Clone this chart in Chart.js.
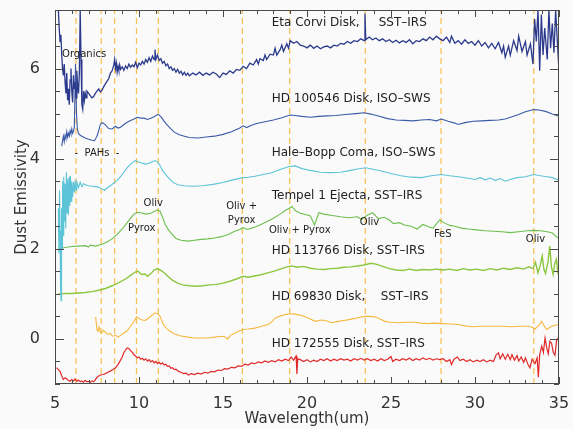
<!DOCTYPE html>
<html>
<head>
<meta charset="utf-8">
<script src="https://cdn.jsdelivr.net/npm/chart.js@4.4.0/dist/chart.umd.min.js"></script>
<style>
  html, body { margin: 0; padding: 0; background: #fafafa; }
  #wrap { width: 573px; height: 429px; }
</style>
</head>
<body>
<div id="wrap"><canvas id="spectra"></canvas></div>
<script>
// axis ranges and labelled ticks
const xRange = [5, 35];
const yRange = [-1, 7.3];
const xTicks = [5, 10, 15, 20, 25, 30, 35];
const yTicks = [0, 2, 4, 6];

// dashed feature markers (um)
const featureLines = [6.25, 7.75, 8.55, 9.85, 11.15, 16.15, 18.97, 23.47, 27.98, 33.5];

// spectra as [wavelength, emissivity] pairs, already offset as in the figure
const etaCorvi = [[5.2,7.3],[5.25,6.9],[5.3,6.6],[5.35,6.75],[5.4,6.3],[5.45,6.0],[5.5,5.85],[5.55,6.1],[5.6,5.7],[5.65,5.45],[5.7,5.9],[5.75,5.3],[5.8,5.55],[5.85,5.2],[5.9,5.75],[5.95,6.0],[6.0,5.5],[6.05,5.25],[6.1,5.85],[6.15,5.55],[6.2,5.7],[6.25,5.35],[6.3,5.95],[6.35,5.6],[6.4,5.45],[6.45,5.9],[6.5,7.3],[6.55,6.2],[6.6,5.2],[6.65,5.1],[6.7,5.5],[6.75,5.3],[6.8,5.45],[6.85,5.35],[6.9,5.5],[7.0,5.45],[7.1,5.4],[7.2,5.35],[7.3,5.38],[7.4,5.45],[7.5,5.5],[7.6,5.55],[7.7,5.48],[7.8,5.52],[7.9,5.6],[8.0,5.66],[8.1,5.72],[8.2,5.78],[8.3,5.9],[8.4,5.95],[8.5,6.08],[8.55,6.2],[8.6,6.0],[8.65,6.12],[8.7,5.92],[8.75,6.05],[8.8,5.96],[8.85,6.08],[8.9,5.98],[9.0,6.04],[9.1,5.96],[9.2,6.06],[9.3,6.0],[9.4,6.1],[9.5,6.03],[9.6,6.08],[9.7,6.04],[9.8,6.14],[9.9,6.02],[10.0,6.12],[10.1,6.08],[10.2,6.16],[10.3,6.1],[10.4,6.2],[10.5,6.14],[10.6,6.24],[10.7,6.16],[10.8,6.28],[10.9,6.2],[10.95,6.42],[11.0,6.2],[11.1,6.3],[11.2,6.18],[11.3,6.22],[11.4,6.12],[11.5,6.16],[11.6,6.06],[11.7,6.1],[11.8,6.0],[11.9,6.04],[12.0,5.96],[12.1,6.0],[12.2,5.92],[12.3,5.98],[12.4,5.9],[12.5,5.94],[12.6,5.86],[12.7,5.92],[12.8,5.85],[12.9,5.9],[13.0,5.84],[13.2,5.9],[13.4,5.86],[13.6,5.92],[13.8,5.85],[14.0,5.9],[14.2,5.86],[14.4,5.92],[14.6,5.88],[14.8,5.8],[15.0,5.9],[15.2,5.87],[15.4,5.95],[15.6,5.9],[15.8,5.98],[16.0,5.96],[16.2,6.05],[16.4,6.0],[16.6,6.12],[16.8,6.08],[17.0,6.2],[17.1,6.1],[17.2,6.22],[17.4,6.18],[17.5,6.3],[17.6,6.2],[17.8,6.32],[18.0,6.3],[18.1,6.45],[18.2,6.3],[18.4,6.42],[18.5,6.52],[18.6,6.38],[18.8,6.55],[18.9,6.45],[19.0,6.62],[19.2,6.56],[19.4,6.6],[19.6,6.52],[19.8,6.5],[20.0,6.46],[20.2,6.52],[20.4,6.45],[20.6,6.5],[20.8,6.44],[21.0,6.48],[21.2,6.5],[21.4,6.46],[21.6,6.52],[21.8,6.5],[22.0,6.56],[22.2,6.54],[22.4,6.6],[22.6,6.56],[22.8,6.62],[23.0,6.6],[23.2,6.66],[23.4,6.62],[23.45,7.22],[23.5,6.64],[23.7,6.7],[23.9,6.64],[24.1,6.68],[24.3,6.62],[24.5,6.66],[24.7,6.6],[24.9,6.64],[25.1,6.58],[25.3,6.63],[25.5,6.57],[25.7,6.62],[25.9,6.58],[26.1,6.64],[26.3,6.55],[26.5,6.62],[26.7,6.6],[26.9,6.66],[27.1,6.62],[27.3,6.7],[27.5,6.64],[27.7,6.72],[27.9,6.66],[28.1,6.62],[28.3,6.7],[28.5,6.58],[28.6,6.72],[28.8,6.56],[29.0,6.62],[29.2,6.54],[29.4,6.64],[29.6,6.56],[29.8,6.6],[30.0,6.52],[30.2,6.62],[30.4,6.5],[30.6,6.58],[30.8,6.46],[31.0,6.56],[31.2,6.44],[31.4,6.58],[31.6,6.35],[31.7,6.5],[31.8,6.25],[32.0,6.5],[32.1,6.3],[32.3,6.62],[32.5,6.4],[32.6,6.72],[32.8,6.38],[33.0,6.6],[33.1,6.3],[33.3,6.55],[33.45,6.1],[33.55,7.1],[33.65,6.6],[33.75,7.3],[33.85,5.95],[33.95,7.2],[34.05,6.3],[34.15,6.9],[34.3,6.2],[34.4,7.3],[34.5,6.45],[34.6,7.0],[34.7,6.35],[34.8,7.3],[34.9,6.6],[35.0,5.95]];

const hd100546 = [[5.4,4.28],[5.45,4.4],[5.5,4.5],[5.55,4.38],[5.6,4.52],[5.65,4.45],[5.7,4.6],[5.75,4.48],[5.8,4.56],[5.85,4.5],[5.9,4.62],[5.95,4.55],[6.0,4.66],[6.05,4.56],[6.1,4.6],[6.15,4.7],[6.22,6.1],[6.28,5.0],[6.33,4.66],[6.4,4.56],[6.5,4.52],[6.6,4.5],[6.8,4.46],[7.0,4.43],[7.2,4.41],[7.35,4.4],[7.5,4.5],[7.6,4.62],[7.7,4.76],[7.8,4.8],[7.9,4.78],[8.0,4.75],[8.2,4.67],[8.4,4.66],[8.6,4.72],[8.75,4.68],[8.9,4.7],[9.1,4.76],[9.3,4.81],[9.5,4.85],[9.7,4.88],[9.9,4.92],[10.1,4.9],[10.3,4.9],[10.5,4.87],[10.7,4.9],[10.9,4.93],[11.1,4.98],[11.2,4.97],[11.35,4.91],[11.5,4.83],[11.7,4.74],[11.9,4.66],[12.1,4.59],[12.4,4.53],[12.7,4.5],[13.0,4.47],[13.5,4.46],[14.0,4.48],[14.5,4.5],[15.0,4.54],[15.5,4.6],[16.0,4.68],[16.2,4.73],[16.4,4.69],[16.7,4.74],[17.0,4.78],[17.5,4.82],[18.0,4.86],[18.5,4.91],[19.0,4.97],[19.3,4.96],[19.7,4.94],[20.2,4.92],[20.7,4.94],[21.2,4.95],[21.7,4.96],[22.3,4.98],[22.9,5.0],[23.4,5.02],[23.8,4.99],[24.3,4.94],[24.8,4.89],[25.3,4.86],[25.8,4.85],[26.3,4.84],[26.8,4.86],[27.3,4.87],[27.7,4.84],[28.0,4.88],[28.4,4.83],[28.8,4.79],[29.0,4.76],[29.4,4.8],[29.9,4.83],[30.4,4.84],[30.9,4.85],[31.4,4.86],[31.8,4.88],[32.2,4.93],[32.6,4.98],[33.0,5.04],[33.5,5.09],[33.8,5.08],[34.2,5.05],[34.6,4.99],[35.0,4.94]];

const haleBopp = [[5.2,2.9],[5.23,1.9],[5.27,3.3],[5.3,2.4],[5.33,1.2],[5.36,0.85],[5.39,2.9],[5.42,2.0],[5.45,3.5],[5.48,2.3],[5.52,3.6],[5.56,2.6],[5.6,3.45],[5.64,2.45],[5.68,3.7],[5.72,2.8],[5.76,3.55],[5.8,2.75],[5.84,3.6],[5.88,2.95],[5.92,3.62],[5.96,3.05],[6.0,3.5],[6.05,3.15],[6.1,3.48],[6.15,3.25],[6.2,3.52],[6.25,3.3],[6.3,3.48],[6.4,3.36],[6.5,3.48],[6.6,3.38],[6.7,3.45],[6.8,3.42],[7.0,3.4],[7.2,3.39],[7.4,3.38],[7.6,3.37],[7.8,3.33],[7.95,3.3],[8.1,3.35],[8.3,3.4],[8.5,3.46],[8.7,3.52],[8.9,3.6],[9.1,3.7],[9.3,3.8],[9.5,3.88],[9.7,3.94],[9.8,3.96],[10.0,3.92],[10.2,3.9],[10.4,3.88],[10.6,3.9],[10.8,3.93],[10.95,3.96],[11.1,3.93],[11.25,3.85],[11.4,3.74],[11.6,3.64],[11.8,3.56],[12.0,3.48],[12.3,3.42],[12.7,3.4],[13.2,3.39],[13.8,3.4],[14.4,3.43],[15.0,3.47],[15.6,3.53],[16.2,3.58],[16.5,3.59],[16.9,3.61],[17.4,3.65],[17.9,3.69],[18.4,3.76],[18.9,3.82],[19.3,3.84],[19.7,3.78],[20.2,3.74],[20.8,3.7],[21.4,3.69],[22.0,3.7],[22.6,3.74],[23.0,3.77],[23.5,3.8],[24.0,3.76],[24.5,3.72],[25.0,3.67],[25.6,3.62],[26.2,3.59],[26.8,3.58],[27.4,3.62],[28.0,3.65],[28.5,3.62],[29.0,3.6],[29.5,3.57],[30.0,3.54],[30.3,3.58],[30.6,3.53],[30.9,3.57],[31.2,3.52],[31.5,3.56],[31.8,3.5],[32.1,3.54],[32.5,3.58],[33.0,3.6],[33.5,3.65],[33.9,3.62],[34.3,3.6],[34.6,3.58],[35.0,3.52]];

const tempel1 = [[5.2,2.0],[5.6,2.03],[6.0,2.05],[6.4,2.06],[6.8,2.07],[7.0,2.04],[7.1,2.08],[7.4,2.06],[7.8,2.1],[8.1,2.15],[8.4,2.22],[8.7,2.32],[9.0,2.44],[9.3,2.58],[9.5,2.68],[9.7,2.77],[9.9,2.81],[10.1,2.8],[10.4,2.77],[10.7,2.79],[10.9,2.83],[11.1,2.86],[11.25,2.84],[11.4,2.7],[11.55,2.55],[11.75,2.42],[11.95,2.33],[12.2,2.23],[12.5,2.19],[12.9,2.17],[13.3,2.19],[13.7,2.21],[14.1,2.22],[14.5,2.24],[14.9,2.27],[15.3,2.32],[15.7,2.39],[16.0,2.43],[16.2,2.47],[16.45,2.43],[16.8,2.47],[17.2,2.53],[17.6,2.6],[18.0,2.68],[18.4,2.77],[18.7,2.85],[18.95,2.9],[19.1,2.94],[19.3,2.85],[19.6,2.79],[19.9,2.76],[20.2,2.73],[20.45,2.53],[20.7,2.8],[21.0,2.77],[21.5,2.74],[22.0,2.71],[22.5,2.69],[23.0,2.71],[23.25,2.65],[23.55,2.74],[23.9,2.8],[24.25,2.67],[24.6,2.7],[24.9,2.64],[25.15,2.56],[25.5,2.58],[25.8,2.53],[26.2,2.5],[26.55,2.44],[26.9,2.54],[27.3,2.48],[27.5,2.46],[27.9,2.64],[28.2,2.57],[28.5,2.52],[28.8,2.5],[29.2,2.46],[29.6,2.44],[30.1,2.42],[30.6,2.4],[31.1,2.39],[31.6,2.38],[32.1,2.36],[32.6,2.38],[33.1,2.4],[33.5,2.41],[33.9,2.4],[34.3,2.38],[34.6,2.35],[35.0,2.22]];

const hd113766 = [[5.2,1.0],[5.6,1.01],[6.0,1.01],[6.4,1.02],[6.8,1.03],[7.2,1.05],[7.6,1.08],[8.0,1.12],[8.4,1.18],[8.8,1.25],[9.2,1.33],[9.5,1.41],[9.8,1.49],[9.95,1.5],[10.15,1.43],[10.35,1.44],[10.5,1.39],[10.7,1.45],[10.9,1.53],[11.1,1.56],[11.3,1.52],[11.5,1.47],[11.75,1.38],[12.0,1.3],[12.3,1.24],[12.6,1.2],[13.0,1.18],[13.4,1.17],[13.8,1.18],[14.2,1.2],[14.6,1.21],[15.0,1.24],[15.4,1.28],[15.8,1.33],[16.2,1.39],[16.5,1.37],[16.8,1.39],[17.2,1.42],[17.6,1.46],[18.0,1.5],[18.4,1.55],[18.8,1.6],[19.1,1.62],[19.4,1.59],[19.8,1.61],[20.2,1.57],[20.6,1.55],[21.0,1.54],[21.4,1.56],[21.8,1.57],[22.2,1.59],[22.6,1.6],[23.0,1.62],[23.4,1.64],[23.8,1.68],[24.1,1.66],[24.5,1.61],[24.9,1.56],[25.3,1.53],[25.7,1.52],[26.1,1.55],[26.5,1.52],[26.9,1.54],[27.3,1.53],[27.7,1.55],[28.1,1.53],[28.5,1.55],[28.9,1.52],[29.3,1.56],[29.7,1.53],[30.1,1.55],[30.5,1.52],[30.9,1.56],[31.3,1.53],[31.7,1.57],[32.1,1.54],[32.5,1.58],[32.9,1.55],[33.2,1.6],[33.45,1.56],[33.6,1.7],[33.75,1.47],[33.9,1.66],[34.0,1.84],[34.1,1.55],[34.2,1.45],[34.35,1.72],[34.45,2.06],[34.55,1.6],[34.65,1.43],[34.75,1.68],[34.85,1.77],[34.92,1.5],[35.0,1.62]];

const hd69830 = [[7.42,0.49],[7.5,0.2],[7.56,0.17],[7.62,0.27],[7.7,0.15],[7.78,0.13],[7.88,0.19],[7.98,0.16],[8.08,0.12],[8.17,0.1],[8.3,0.12],[8.4,0.07],[8.5,0.06],[8.6,0.08],[8.77,0.04],[8.9,0.08],[9.05,0.12],[9.27,0.17],[9.45,0.26],[9.66,0.36],[9.86,0.49],[10.06,0.44],[10.2,0.42],[10.36,0.41],[10.55,0.46],[10.75,0.52],[10.95,0.58],[11.1,0.56],[11.25,0.5],[11.45,0.32],[11.65,0.23],[11.85,0.17],[12.1,0.11],[12.44,0.07],[12.9,0.04],[13.33,0.02],[13.8,0.02],[14.13,0.02],[14.5,0.04],[14.92,0.06],[15.1,0.05],[15.28,0.0],[15.45,0.08],[15.71,0.13],[16.0,0.18],[16.21,0.21],[16.5,0.22],[16.9,0.24],[17.3,0.28],[17.7,0.32],[17.9,0.38],[18.1,0.46],[18.4,0.51],[18.69,0.54],[18.99,0.56],[19.3,0.55],[19.68,0.52],[19.9,0.49],[20.2,0.44],[20.48,0.39],[20.87,0.42],[21.2,0.4],[21.46,0.36],[21.86,0.39],[22.2,0.41],[22.65,0.44],[23.05,0.47],[23.45,0.5],[23.8,0.5],[24.04,0.49],[24.35,0.44],[24.64,0.39],[25.0,0.37],[25.44,0.36],[25.9,0.37],[26.4,0.37],[26.8,0.35],[27.22,0.34],[27.6,0.35],[28.0,0.34],[28.5,0.33],[29.01,0.32],[29.4,0.29],[29.8,0.27],[30.4,0.28],[30.99,0.28],[31.6,0.28],[32.18,0.27],[32.7,0.28],[33.17,0.28],[33.4,0.26],[33.57,0.22],[33.8,0.3],[33.97,0.39],[34.1,0.3],[34.26,0.21],[34.56,0.28],[34.96,0.32]];

const hd172555 = [[5.1,-0.64],[5.2,-0.68],[5.3,-0.72],[5.4,-0.82],[5.49,-0.9],[5.6,-0.86],[5.7,-0.89],[5.8,-0.92],[5.89,-0.94],[6.0,-0.9],[6.1,-0.93],[6.19,-0.89],[6.3,-0.94],[6.4,-0.91],[6.5,-0.95],[6.59,-0.93],[6.7,-0.96],[6.8,-0.92],[6.9,-0.95],[6.98,-0.94],[7.1,-0.96],[7.2,-0.93],[7.3,-0.95],[7.38,-0.92],[7.48,-0.86],[7.58,-0.83],[7.7,-0.8],[7.88,-0.79],[8.0,-0.77],[8.15,-0.74],[8.27,-0.72],[8.45,-0.68],[8.6,-0.64],[8.75,-0.57],[8.9,-0.47],[9.0,-0.4],[9.1,-0.3],[9.21,-0.24],[9.3,-0.2],[9.4,-0.21],[9.5,-0.26],[9.6,-0.3],[9.7,-0.35],[9.8,-0.38],[9.9,-0.42],[10.0,-0.4],[10.1,-0.45],[10.2,-0.43],[10.3,-0.47],[10.4,-0.44],[10.5,-0.49],[10.6,-0.46],[10.7,-0.51],[10.8,-0.48],[10.9,-0.53],[11.0,-0.5],[11.1,-0.55],[11.2,-0.52],[11.3,-0.56],[11.4,-0.53],[11.5,-0.58],[11.6,-0.56],[11.7,-0.61],[11.8,-0.6],[11.9,-0.65],[12.0,-0.64],[12.1,-0.68],[12.2,-0.67],[12.35,-0.72],[12.5,-0.74],[12.65,-0.77],[12.8,-0.76],[12.95,-0.8],[13.1,-0.77],[13.3,-0.79],[13.5,-0.76],[13.7,-0.78],[13.9,-0.74],[14.1,-0.76],[14.3,-0.72],[14.5,-0.73],[14.7,-0.69],[14.9,-0.7],[15.1,-0.66],[15.3,-0.67],[15.5,-0.63],[15.7,-0.64],[15.9,-0.6],[16.1,-0.61],[16.3,-0.56],[16.5,-0.58],[16.7,-0.53],[16.9,-0.55],[17.1,-0.51],[17.3,-0.53],[17.5,-0.49],[17.7,-0.52],[17.9,-0.48],[18.1,-0.51],[18.3,-0.46],[18.5,-0.49],[18.7,-0.45],[18.9,-0.48],[19.05,-0.4],[19.2,-0.47],[19.35,-0.38],[19.4,-0.78],[19.45,-0.44],[19.6,-0.46],[19.8,-0.5],[20.0,-0.46],[20.2,-0.51],[20.4,-0.47],[20.6,-0.5],[20.8,-0.45],[21.0,-0.48],[21.2,-0.44],[21.4,-0.49],[21.6,-0.45],[21.8,-0.48],[22.0,-0.44],[22.2,-0.47],[22.4,-0.45],[22.6,-0.49],[22.8,-0.44],[23.0,-0.47],[23.2,-0.43],[23.4,-0.47],[23.6,-0.44],[23.8,-0.48],[24.0,-0.45],[24.2,-0.49],[24.4,-0.44],[24.6,-0.48],[24.8,-0.45],[25.0,-0.39],[25.1,-0.5],[25.3,-0.45],[25.5,-0.48],[25.7,-0.44],[25.9,-0.47],[26.1,-0.43],[26.3,-0.48],[26.5,-0.44],[26.7,-0.47],[26.9,-0.42],[27.1,-0.46],[27.3,-0.43],[27.5,-0.47],[27.7,-0.44],[27.9,-0.46],[28.1,-0.44],[28.3,-0.5],[28.5,-0.46],[28.6,-0.57],[28.75,-0.45],[28.95,-0.4],[29.1,-0.48],[29.3,-0.45],[29.5,-0.5],[29.7,-0.46],[29.9,-0.51],[30.1,-0.47],[30.3,-0.5],[30.5,-0.46],[30.7,-0.51],[30.9,-0.47],[31.1,-0.5],[31.25,-0.36],[31.4,-0.31],[31.5,-0.44],[31.65,-0.33],[31.8,-0.45],[31.95,-0.34],[32.1,-0.46],[32.2,-0.35],[32.35,-0.47],[32.5,-0.37],[32.6,-0.49],[32.75,-0.4],[32.9,-0.52],[33.0,-0.42],[33.15,-0.56],[33.27,-0.64],[33.4,-0.45],[33.57,-0.55],[33.7,-0.42],[33.77,-0.85],[33.85,-0.35],[33.97,-0.16],[34.07,-0.3],[34.17,0.02],[34.27,-0.2],[34.36,-0.33],[34.46,-0.05],[34.56,-0.1],[34.66,-0.3],[34.76,-0.36],[34.86,-0.02],[34.96,0.02],[35.0,-0.2]];

// series captions, anchored at [wavelength, emissivity]
const seriesLabels = [
  ['Eta Corvi Disk,     SST\u2013IRS', 17.9, 7.01],
  ['HD 100546 Disk, ISO\u2013SWS', 17.9, 5.32],
  ['Hale\u2013Bopp Coma, ISO\u2013SWS', 17.9, 4.13],
  ['Tempel 1 Ejecta, SST\u2013IRS', 17.9, 3.17],
  ['HD 113766 Disk, SST\u2013IRS', 17.9, 1.95],
  ['HD 69830 Disk,    SST\u2013IRS', 17.9, 0.93],
  ['HD 172555 Disk, SST\u2013IRS', 17.9, -0.1]
];

// mineral feature notes, centred at [wavelength, emissivity]
const featureLabels = [
  ['Organics', 6.73, 6.32],
  ['-  PAHs  -', 7.5, 4.11],
  ['Oliv', 10.85, 3.0],
  ['Pyrox', 10.16, 2.45],
  ['Oliv +', 16.11, 2.95],
  ['Pyrox', 16.11, 2.64],
  ['Oliv + Pyrox', 19.57, 2.41],
  ['Oliv', 23.72, 2.58],
  ['FeS', 28.08, 2.33],
  ['Oliv', 33.6, 2.21]
];

const toPoints = pairs => pairs.map(([x, y]) => ({ x, y }));

function spectrum(pairs, color, width) {
  return {
    data: toPoints(pairs),
    borderColor: color,
    borderWidth: width,
    pointRadius: 0,
    tension: 0,
    order: 0
  };
}

const markerSets = featureLines.map(w => ({
  data: [{ x: w, y: yRange[0] }, { x: w, y: yRange[1] }],
  borderColor: 'rgba(247,184,62,0.9)',
  borderWidth: 1.2,
  borderDash: [6, 4],
  pointRadius: 0,
  order: 1
}));

// axis frame with inward ticks on all four sides, plus the text notes
const framePlugin = {
  id: 'frame',
  afterDatasetsDraw(chart) {
    const { ctx, chartArea: a, scales: { x, y } } = chart;
    ctx.save();
    ctx.strokeStyle = '#4a4a4a';
    ctx.lineWidth = 1;
    ctx.strokeRect(a.left + 0.5, a.top + 0.5, a.right - a.left - 1, a.bottom - a.top - 1);
    ctx.beginPath();
    for (let v = Math.ceil(x.min); v <= x.max; v++) {
      const px = Math.round(x.getPixelForValue(v)) + 0.5;
      const len = v % 5 === 0 ? 7 : 4;
      ctx.moveTo(px, a.bottom); ctx.lineTo(px, a.bottom - len);
      ctx.moveTo(px, a.top); ctx.lineTo(px, a.top + len);
    }
    for (let k = Math.ceil(y.min * 2); k <= y.max * 2; k++) {
      const py = Math.round(y.getPixelForValue(k / 2)) + 0.5;
      const len = k % 4 === 0 ? 9 : 5;
      ctx.moveTo(a.left, py); ctx.lineTo(a.left + len, py);
      ctx.moveTo(a.right, py); ctx.lineTo(a.right - len, py);
    }
    ctx.stroke();

    ctx.fillStyle = '#222';
    ctx.textBaseline = 'middle';
    ctx.font = '12px "DejaVu Sans"';
    ctx.textAlign = 'left';
    seriesLabels.forEach(([t, wx, wy]) => {
      ctx.fillText(t, x.getPixelForValue(wx), y.getPixelForValue(wy));
    });
    ctx.font = '10px "DejaVu Sans"';
    ctx.textAlign = 'center';
    featureLabels.forEach(([t, wx, wy]) => {
      ctx.fillText(t, x.getPixelForValue(wx), y.getPixelForValue(wy));
    });
    ctx.restore();
  }
};

new Chart(document.getElementById('spectra'), {
  type: 'line',
  data: {
    datasets: [
      spectrum(etaCorvi, '#2b3a8c', 1.3),
      spectrum(hd100546, '#3a5aa8', 1.1),
      spectrum(haleBopp, '#5cc4d6', 1.1),
      spectrum(tempel1, '#6cbf4e', 1.1),
      spectrum(hd113766, '#8dc63f', 1.4),
      spectrum(hd69830, '#f5b93f', 1.1),
      spectrum(hd172555, '#e02a2a', 1.2),
      ...markerSets
    ]
  },
  options: {
    responsive: true,
    maintainAspectRatio: false,
    animation: false,
    layout: { padding: { top: 10, right: 14, left: 0, bottom: 0 } },
    plugins: { legend: { display: false }, tooltip: { enabled: false } },
    scales: {
      x: {
        type: 'linear',
        min: xRange[0],
        max: xRange[1],
        grid: { display: false },
        border: { display: false },
        afterBuildTicks: s => { s.ticks = xTicks.map(value => ({ value })); },
        afterFit: s => { s.height = 45; s.paddingLeft = 0; s.paddingRight = 0; },
        ticks: { padding: 2, color: '#333', font: { family: 'DejaVu Sans', size: 16 } },
        title: {
          display: true, text: 'Wavelength(um)', color: '#333',
          font: { family: 'DejaVu Sans', size: 15 }, padding: { top: 0, bottom: 1 }
        }
      },
      y: {
        min: yRange[0],
        max: yRange[1],
        grid: { display: false },
        border: { display: false },
        afterBuildTicks: s => { s.ticks = yTicks.map(value => ({ value })); },
        afterFit: s => { s.width = 55; s.paddingTop = 0; s.paddingBottom = 0; },
        ticks: { padding: 7, color: '#333', font: { family: 'DejaVu Sans', size: 16 } },
        title: {
          display: true, text: 'Dust Emissivity', color: '#333',
          font: { family: 'DejaVu Sans', size: 15 }, padding: { top: 13, bottom: 0 }
        }
      }
    }
  },
  plugins: [framePlugin]
});
</script>
</body>
</html>
